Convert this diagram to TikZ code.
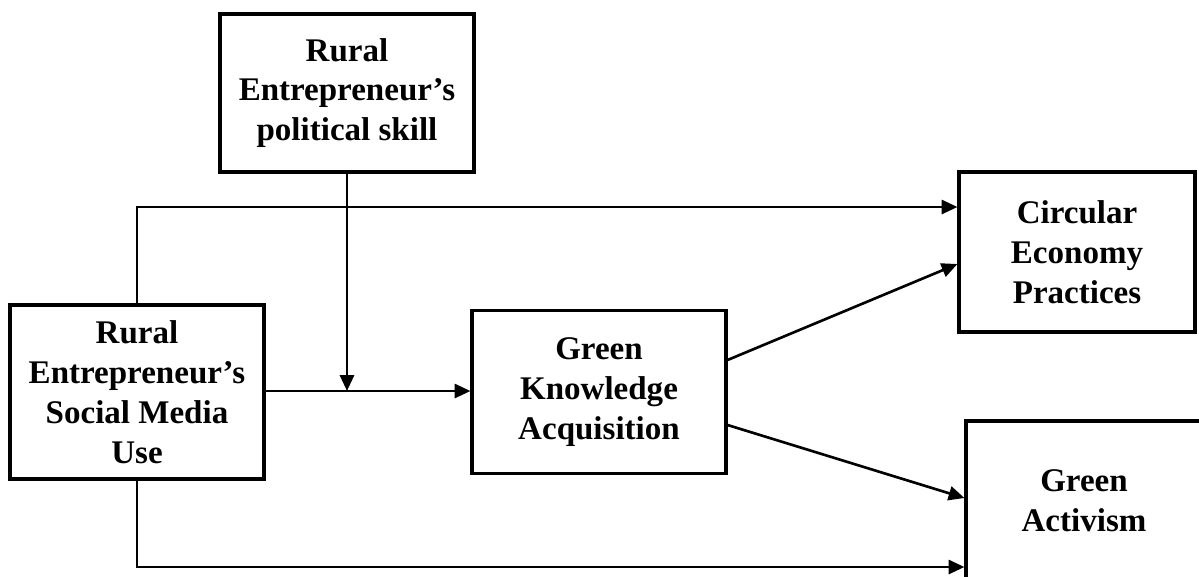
\documentclass[tikz,border=0pt]{standalone}
\usepackage{fontspec}
\setmainfont{Liberation Serif}
\usetikzlibrary{arrows.meta}
\begin{document}
\begin{tikzpicture}[x=0.02cm, y=-0.02cm,
    main/.style = {draw, rectangle, line width=1.8pt, align=center, inner sep=0pt,
      minimum width=5.08cm, font=\fontsize{18.8}{22.7}\selectfont\bfseries},
    link/.style = {line width=1.5pt, -{Triangle[length=9pt, width=8pt]}}]
    \useasboundingbox (0,0) rectangle (1199,576);
    \clip (0,0) rectangle (1199,576);
    \node[main, minimum height=3.16cm] (1) at (347,93) {Rural\\Entrepreneur’s\\political skill};
    \node[main, minimum height=3.48cm] (2) at (137,392) {Rural\\Entrepreneur’s\\Social Media\\Use};
    \node[main, minimum height=3.26cm] (3) at (599,392) {Green\\Knowledge\\Acquisition};
    \node[main, minimum width=4.72cm, minimum height=3.2cm] (4) at (1077,252) {Circular\\Economy\\Practices};
    \node[main, minimum width=4.72cm, minimum height=3.2cm] (5) at (1084,501) {Green\\Activism};
    \draw[link] (2.north) -- (2.north |- 0,207) -- (4.west |- 0,207);
    \draw[link] (2.south) -- (2.south |- 0,567) -- (5.west |- 0,567);
    \draw[link] (2.east |- 0,391) -- (3.west |- 0,391);
    \draw[link] (1.south) -- (1.south |- 0,391);
    \draw[link] (3.east |- 0,360) -- (4.west |- 0,264);
    \draw[link] (3.east |- 0,425) -- (5.west |- 0,498);
    \end{tikzpicture}
\end{document}
